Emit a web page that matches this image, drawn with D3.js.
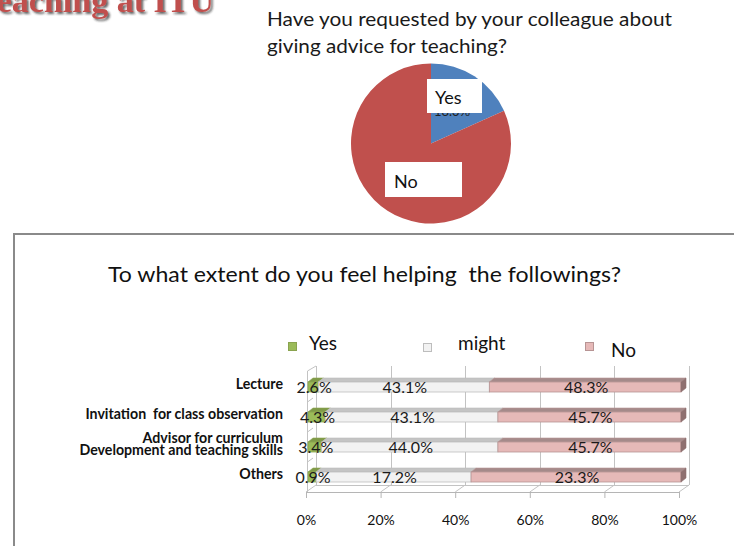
<!DOCTYPE html>
<html>
<head>
<meta charset="utf-8">
<script src="https://cdn.jsdelivr.net/npm/d3@7"></script>
<style>
  html, body { margin: 0; padding: 0; background: #ffffff; }
  svg { display: block; }
  text { white-space: pre; }
</style>
</head>
<body>
<svg id="chart" width="734" height="546"></svg>
<script>
// ---- data ----
const pieCategories = ["Yes", "No"];
const pieValues = [18.3, 81.7];

const barCategories = [
  ["Lecture"],
  ["Invitation  for class observation"],
  ["Advisor for curriculum", "Development and teaching skills"],
  ["Others"]
];
const seriesNames = ["Yes", "might", "No"];
const yesValues = [2.6, 4.3, 3.4, 0.9];
const mightValues = [43.1, 43.1, 44.0, 17.2];
const noValues = [48.3, 45.7, 45.7, 23.3];
const tickValues = [0, 0.2, 0.4, 0.6, 0.8, 1];

// ---- styles ----
const FONT = "Lato, 'Open Sans', sans-serif";
const pieColors = ["#4f81bd", "#c0504d"];
const faceColors = {
  Yes:   { front: "#9bbb59", top: "#7f9a48", side: "#6f873e", stroke: "#8aa34f" },
  might: { front: "#f2f2f2", top: "#c4c4c4", side: "#b0b0b0", stroke: "#bdbdbd" },
  No:    { front: "#e6b9b8", top: "#a58a8a", side: "#8e7070", stroke: "#b79494" }
};

const svg = d3.select("#chart");

// ---- cropped slide heading ----
const defs = svg.append("defs");
const sh = defs.append("filter").attr("id", "shadow")
  .attr("x", "-10%").attr("y", "-50%").attr("width", "130%").attr("height", "200%");
sh.append("feDropShadow").attr("dx", 2).attr("dy", 2)
  .attr("stdDeviation", 1.2).attr("flood-color", "#222").attr("flood-opacity", 0.7);

svg.append("text")
  .attr("x", 214).attr("y", 12)
  .attr("text-anchor", "end")
  .attr("font-family", "'Liberation Serif', 'DejaVu Serif', serif")
  .attr("font-weight", "bold")
  .attr("font-size", 34)
  .attr("fill", "#c0504d")
  .attr("filter", "url(#shadow)")
  .text("Teaching at ITU");

// ---- pie question ----
const q = svg.append("text")
  .attr("font-family", FONT).attr("font-size", 19.5).attr("fill", "#1a1a1a");
q.append("tspan").attr("x", 267).attr("y", 26)
  .attr("textLength", 405).attr("lengthAdjust", "spacingAndGlyphs")
  .text("Have you requested by your colleague about");
q.append("tspan").attr("x", 267).attr("y", 53)
  .attr("textLength", 240).attr("lengthAdjust", "spacingAndGlyphs")
  .text("giving advice for teaching?");

// ---- pie ----
const pieCx = 431, pieCy = 143.5, pieR = 80;
const pie = d3.pie().sort(null).value(d => d)(pieValues);
const arc = d3.arc().innerRadius(0).outerRadius(pieR);
const pg = svg.append("g").attr("transform", `translate(${pieCx},${pieCy})`);
pg.selectAll("path").data(pie).join("path")
  .attr("d", arc)
  .attr("fill", (d, i) => pieColors[i]);

// value label of the Yes slice, mostly hidden behind its name box
svg.append("text")
  .attr("x", 452).attr("y", 115.5)
  .attr("text-anchor", "middle")
  .attr("font-family", FONT).attr("font-size", 13).attr("fill", "#222")
  .text(d3.format(".1f")(pieValues[0]) + "%");

// name boxes on the slices
const pieBoxes = [
  { x: 427, y: 79, w: 55, h: 34, tx: 435, ty: 104 },
  { x: 385, y: 162, w: 77, h: 35, tx: 394, ty: 188 }
];
pieBoxes.forEach((b, i) => {
  svg.append("rect").attr("x", b.x).attr("y", b.y).attr("width", b.w).attr("height", b.h)
    .attr("fill", "#ffffff");
  svg.append("text").attr("x", b.tx).attr("y", b.ty)
    .attr("font-family", FONT).attr("font-size", 18).attr("fill", "#111")
    .text(pieCategories[i]);
});

// ---- frame around the bar chart ----
svg.append("path")
  .attr("d", "M14,546 L14,234 L734,234")
  .attr("fill", "none").attr("stroke", "#8a8a8a").attr("stroke-width", 2);

svg.append("text")
  .attr("x", 108).attr("y", 282)
  .attr("font-family", FONT).attr("font-size", 21.5).attr("fill", "#111")
  .attr("textLength", 513).attr("lengthAdjust", "spacingAndGlyphs")
  .text("To what extent do you feel helping  the followings?");

// ---- legend ----
const legendPos = [
  { sx: 288, sy: 342, tx: 309, ty: 350 },
  { sx: 423, sy: 343, tx: 458, ty: 350 },
  { sx: 585, sy: 342, tx: 611, ty: 357 }
];
seriesNames.forEach((name, i) => {
  const p = legendPos[i];
  svg.append("rect").attr("x", p.sx + 0.5).attr("y", p.sy + 0.5).attr("width", 8).attr("height", 8)
    .attr("fill", faceColors[name].front).attr("stroke", faceColors[name].stroke);
  svg.append("text").attr("x", p.tx).attr("y", p.ty)
    .attr("font-family", FONT).attr("font-size", 19).attr("fill", "#111")
    .text(name);
});

// ---- 3D 100% stacked bars ----
const x = d3.scaleLinear().domain([0, 1]).range([306, 679]);
const y = d3.scaleBand().domain(d3.range(barCategories.length)).range([371, 491]);
const floorY = 492;
const wallTop = 366;
const backDx = 10, backDy = -7;      // depth of the plot box
const barDx = 5, barDy = -4;         // depth of each bar
const barH = 10;

const rows = barCategories.map((c, i) => ({
  i, Yes: yesValues[i], might: mightValues[i], No: noValues[i]
}));
const stacked = d3.stack().keys(seriesNames).offset(d3.stackOffsetExpand)(rows);

const grid = svg.append("g").attr("stroke", "#c3c3c3").attr("stroke-width", 1).attr("fill", "none");
// back wall gridlines
tickValues.forEach(t => {
  const xb = Math.round(x(t) + backDx) + 0.5;
  grid.append("line").attr("x1", xb).attr("x2", xb).attr("y1", wallTop).attr("y2", floorY + backDy);
  grid.append("line").attr("x1", x(t)).attr("y1", floorY).attr("x2", x(t) + backDx).attr("y2", floorY + backDy);
});
// floor back edge
grid.append("line").attr("x1", x(0) + backDx).attr("x2", x(1) + backDx)
  .attr("y1", floorY + backDy + 0.5).attr("y2", floorY + backDy + 0.5);
// side wall
grid.append("line").attr("x1", x(0) + 1.5).attr("x2", x(0) + 1.5).attr("y1", 371).attr("y2", floorY);
grid.append("line").attr("x1", x(0) + 1.5).attr("y1", 371).attr("x2", x(0) + backDx).attr("y2", wallTop);
d3.range(1, barCategories.length).forEach(k => {
  const yy = y(k);
  grid.append("line").attr("x1", x(0) + 1.5).attr("y1", yy + 1).attr("x2", x(0) + backDx - 3).attr("y2", yy - 3);
});

const barsG = svg.append("g");
stacked.forEach((layer, li) => {
  const name = layer.key;
  const col = faceColors[name];
  layer.forEach((d, ri) => {
    const x0 = x(d[0]) + 2, x1 = x(d[1]) + 2;
    const yf = y(ri) + y.bandwidth() / 2 - barH / 2 + 1;
    // top face
    barsG.append("path")
      .attr("d", `M${x0},${yf} L${x1},${yf} L${x1 + barDx},${yf + barDy} L${x0 + barDx},${yf + barDy} Z`)
      .attr("fill", col.top).attr("stroke", col.stroke).attr("stroke-width", 0.6);
    // front face
    barsG.append("rect")
      .attr("x", x0).attr("y", yf).attr("width", x1 - x0).attr("height", barH)
      .attr("fill", col.front).attr("stroke", col.stroke).attr("stroke-width", 0.8);
    if (li === stacked.length - 1) {
      barsG.append("path")
        .attr("d", `M${x1},${yf} L${x1 + barDx},${yf + barDy} L${x1 + barDx},${yf + barDy + barH} L${x1},${yf + barH} Z`)
        .attr("fill", col.side).attr("stroke", col.side).attr("stroke-width", 0.6);
    }
  });
});

// value labels (raw percentages) centred on each segment
const rawBySeries = { Yes: yesValues, might: mightValues, No: noValues };
stacked.forEach(layer => {
  layer.forEach((d, ri) => {
    const cx = (x(d[0]) + x(d[1])) / 2 + 3;
    const cy = y(ri) + y.bandwidth() / 2 + 1.5;
    svg.append("text")
      .attr("x", cx).attr("y", cy).attr("dy", "0.36em")
      .attr("text-anchor", "middle")
      .attr("font-family", FONT).attr("font-size", 16).attr("fill", "#1a1a1a")
      .text(d3.format(".1f")(rawBySeries[layer.key][ri]) + "%");
  });
});

// category labels
barCategories.forEach((lines, i) => {
  const cy = y(i) + y.bandwidth() / 2 - 1.5;
  const t = svg.append("text")
    .attr("text-anchor", "end")
    .attr("font-family", FONT).attr("font-weight", "bold").attr("font-size", 14.2).attr("fill", "#111");
  lines.forEach((ln, k) => {
    t.append("tspan").attr("x", 283)
      .attr("y", cy + (k - (lines.length - 1) / 2) * 12)
      .attr("dy", "0.35em")
      .text(ln);
  });
});

// bottom axis along the front floor edge
const axis = d3.axisBottom(x).tickValues(tickValues).tickFormat(d3.format(".0%"))
  .tickSize(6).tickPadding(17);
const ax = svg.append("g").attr("transform", `translate(0,${floorY})`).call(axis);
ax.select(".domain").attr("stroke", "#b5b5b5").attr("d", `M${x(0)},0.5H${x(1)}`);
ax.selectAll(".tick line").attr("stroke", "#b5b5b5");
ax.selectAll(".tick text").attr("font-family", FONT).attr("font-size", 14).attr("fill", "#111");
</script>
</body>
</html>
